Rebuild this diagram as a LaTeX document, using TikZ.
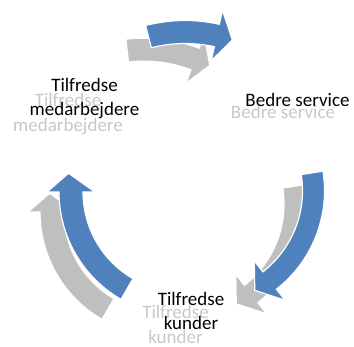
\documentclass[tikz,border=0pt]{standalone}
\usepackage{fontspec}
\setmainfont{Carlito}
\usetikzlibrary{calc}
\definecolor{arrblue}{RGB}{79,129,189}
\definecolor{arrgray}{RGB}{191,191,191}
\definecolor{txtgray}{RGB}{200,200,200}
% #1 cx, #2 cy, #3 R, #4 shaft half width, #5 head half width,
% #6 start angle, #7 head base angle, #8 tip angle, #9 tip radius
\newcommand\cycarrow[9]{%
  ($(#1,#2)+(#6:{#3+#4})$) arc[start angle=#6, end angle=#7, radius={#3+#4}]
  -- ($(#1,#2)+(#7:{#3+#5})$) -- ($(#1,#2)+(#8:#9)$) -- ($(#1,#2)+(#7:{#3-#5})$)
  -- ($(#1,#2)+(#7:{#3-#4})$) arc[start angle=#7, end angle=#6, radius={#3-#4}] -- cycle}
\begin{document}
\begin{tikzpicture}[x=1pt,y=1pt,
  bluearrow/.style={fill=arrblue, draw=white, line width=1.2pt, line join=miter},
  grayarrow/.style={fill=arrgray, draw=white, line width=1.2pt, line join=miter},
  blacklabel/.style={anchor=base, inner sep=0pt, text=black, font=\fontsize{19}{24}\selectfont},
  graylabel/.style={anchor=base, inner sep=0pt, text=txtgray, font=\fontsize{19}{24}\selectfont}]
\useasboundingbox (0,0) rectangle (354,-347);
% gray copies
\path[grayarrow, shift={(-21.5,-14)}, rotate around={-8:(149,-38.5)}]
  \cycarrow{185}{-178}{146}{11.5}{26}{104.5}{77.4}{71.1}{146};
\path[grayarrow, shift={(-18.5,-13.5)}]
  \cycarrow{199.5}{-190.7}{114}{11}{25}{9}{-52}{-61}{114};
\path[grayarrow, shift={(-19,-20)}]
  \cycarrow{183}{-192}{112}{12}{24}{240}{180}{170.7}{116};
% blue arrows
\path[bluearrow] \cycarrow{185}{-178}{146}{11.5}{26}{104.5}{77.4}{71.1}{146};
\path[bluearrow] \cycarrow{199.5}{-190.7}{114}{11}{25}{9}{-52}{-61}{114};
\path[bluearrow] \cycarrow{183}{-192}{112}{12}{24}{240}{180}{170.7}{116};
% gray reflected labels
\node[graylabel] (gm1) at (68,-107) {Tilfredse};
\node[graylabel] (gm2) at (68,-131.5) {medarbejdere};
\node[graylabel] (gb1) at (283,-119) {Bedre service};
\node[graylabel] (gk1) at (175.5,-319) {Tilfredse};
\node[graylabel] (gk2) at (175.5,-343.5) {kunder};
% black labels
\node[blacklabel] (m1) at (84.5,-92) {Tilfredse};
\node[blacklabel] (m2) at (84.5,-116) {medarbejdere};
\node[blacklabel] (b1) at (297.5,-106.7) {Bedre service};
\node[blacklabel] (k1) at (191,-305.7) {Tilfredse};
\node[blacklabel] (k2) at (191,-330) {kunder};
\end{tikzpicture}
\end{document}
